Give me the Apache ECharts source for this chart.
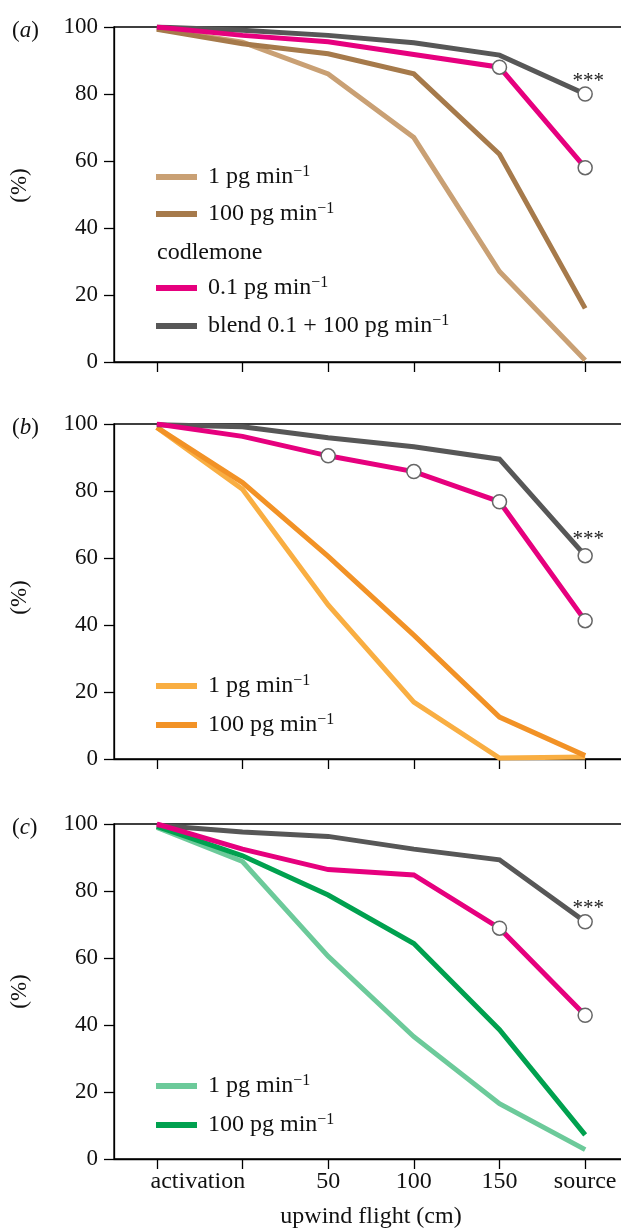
<!DOCTYPE html>
<html><head><meta charset="utf-8">
<script src="https://cdn.jsdelivr.net/npm/echarts@6/dist/echarts.min.js"></script>
<style>html,body{margin:0;padding:0;background:#fff}#c{width:621px;height:1230px}</style>
</head><body><div id="c"></div>
<script>
// ---- data ----
const categories = ['activation', '', '50', '100', '150', 'source'];
const yMin = 0, yMax = 100, yStep = 20;

// panel (a)
const a_1pg   = [99.5, 95.5, 86.0, 67.0, 27.0, 0.5];
const a_100pg = [99.3, 95.0, 92.0, 86.0, 62.0, 16.0];
const a_codl  = [100, 97.5, 95.6, 91.8, 88.0, 58.0];
const a_blend = [100, 99.0, 97.5, 95.3, 91.6, 80.0];
// panel (b)
const b_1pg   = [99.0, 80.5, 46.0, 17.0, 0.3, 0.6];
const b_100pg = [99.0, 82.5, 60.5, 37.0, 12.5, 1.0];
const b_codl  = [100, 96.3, 90.5, 85.8, 76.8, 41.3];
const b_blend = [99.8, 99.2, 95.9, 93.2, 89.5, 60.7];
// panel (c)
const c_1pg   = [99.0, 88.8, 60.5, 36.5, 16.5, 2.8];
const c_100pg = [99.3, 90.5, 78.8, 64.3, 38.6, 7.2];
const c_codl  = [100, 92.5, 86.4, 84.8, 68.9, 42.9];
const c_blend = [99.6, 97.6, 96.3, 92.5, 89.3, 70.8];

// indices marked with open circles
const a_codlMarks = [4, 5], a_blendMarks = [5];
const b_codlMarks = [2, 3, 4, 5], b_blendMarks = [5];
const c_codlMarks = [4, 5], c_blendMarks = [5];
const sigText = '***';

const panelLetters = ['a', 'b', 'c'];
const legendLabels = {
  a1: '1 pg min', a100: '100 pg min', aC: '0.1 pg min', aB: 'blend 0.1 + 100 pg min',
  b1: '1 pg min', b100: '100 pg min',
  c1: '1 pg min', c100: '100 pg min'
};

// ---- styling ----
const FONT = 'Liberation Serif';
const COL = {
  a1: '#C9A074', a100: '#A67A4B',
  b1: '#F9AE42', b100: '#F29226',
  c1: '#6CCA9A', c100: '#00A14F',
  aC: '#E6007E', aB: '#575757',
  pink: '#E6007E', gray: '#575757'
};
const tops = [27, 424, 824];
const H = 335, LEFT = 114, W = 514;
const sigOffsetY = [6, 2, 5];
const yNamePad = [[0, 0, 0, 18], [0, 12, 0, 0], [0, 0, 0, 0]];

const chart = echarts.init(document.getElementById('c'), null, {renderer: 'canvas'});

const grids = [], xAxes = [], yAxes = [], series = [], legends = [], graphics = [];

tops.forEach((t, i) => {
  grids.push({left: LEFT, top: t, width: W, height: H, show: true, outerBoundsMode: 'none',
    containLabel: false,
    borderColor: '#000', borderWidth: 1.3, backgroundColor: 'transparent'});
  const last = i === 2;
  xAxes.push({
    type: 'category', gridIndex: i, data: categories, boundaryGap: true,
    axisLine: {lineStyle: {color: '#000', width: 1.3}},
    axisTick: {show: true, alignWithLabel: true, interval: 0, length: 10, lineStyle: {color: '#000', width: 1.3}},
    axisLabel: {show: last, interval: 0, color: '#111', fontFamily: FONT, fontSize: 24, margin: 11,
      hideOverlap: false,
      formatter: (v, idx) => idx === 0 ? '{act|' + v + '}' : v,
      rich: {act: {fontFamily: FONT, fontSize: 24, color: '#111', padding: [0, 0, 0, 82]}}},
    name: last ? 'upwind flight (cm)' : '', nameLocation: 'middle', nameGap: 46,
    nameTextStyle: {fontFamily: FONT, fontSize: 24, color: '#111'}
  });
  yAxes.push({
    type: 'value', gridIndex: i, min: yMin, max: yMax, interval: yStep,
    axisLine: {show: true, lineStyle: {color: '#000', width: 1.3}},
    axisTick: {show: true, length: 10, lineStyle: {color: '#000', width: 1.3}},
    splitLine: {show: false},
    axisLabel: {color: '#111', fontFamily: FONT, fontSize: 23, margin: 16},
    name: '(%)', nameLocation: 'middle', nameRotate: 90, nameGap: 83,
    nameTextStyle: {fontFamily: FONT, fontSize: 23, color: '#111', padding: yNamePad[i]}
  });
  graphics.push({type: 'text', left: 12, top: t - 8,
    style: {text: '(' + '{i|' + panelLetters[i] + '})', fontFamily: FONT, fontSize: 23, fill: '#111',
      rich: {i: {fontFamily: FONT, fontStyle: 'italic', fontSize: 23, fill: '#111'}}}});
});

function mkData(vals, marks, sigPanel) {
  return vals.map((v, k) => {
    const on = marks && marks.indexOf(k) >= 0;
    const o = {value: v, symbol: on ? 'circle' : 'none'};
    if (sigPanel !== undefined && k === vals.length - 1) {
      o.label = {show: true, formatter: sigText, position: 'top', distance: 0,
        offset: [3, sigOffsetY[sigPanel]],
        fontFamily: FONT, fontSize: 21, color: '#222'};
    }
    return o;
  });
}
function addSeries(id, panel, vals, color, marks, sig) {
  series.push({
    name: id, type: 'line', xAxisIndex: panel, yAxisIndex: panel,
    data: mkData(vals, marks, sig ? panel : undefined), color: color,
    symbol: 'circle', symbolSize: 14, showSymbol: true,
    itemStyle: {color: '#fff', borderColor: '#666', borderWidth: 1.5},
    lineStyle: {color: color, width: 5, cap: 'butt', join: 'miter'},
    emphasis: {disabled: true}, silent: true, animation: false, z: 2
  });
}
addSeries('a1', 0, a_1pg, COL.a1);
addSeries('a100', 0, a_100pg, COL.a100);
addSeries('aB', 0, a_blend, COL.gray, a_blendMarks, true);
addSeries('aC', 0, a_codl, COL.pink, a_codlMarks);
addSeries('b1', 1, b_1pg, COL.b1);
addSeries('b100', 1, b_100pg, COL.b100);
addSeries('bB', 1, b_blend, COL.gray, b_blendMarks, true);
addSeries('bC', 1, b_codl, COL.pink, b_codlMarks);
addSeries('c1', 2, c_1pg, COL.c1);
addSeries('c100', 2, c_100pg, COL.c100);
addSeries('cB', 2, c_blend, COL.gray, c_blendMarks, true);
addSeries('cC', 2, c_codl, COL.pink, c_codlMarks);

function mkLegend(names, top, gap) {
  return {
    data: names.map(n => ({name: n, itemStyle: {color: COL[n], borderWidth: 0}})),
    orient: 'vertical', left: 156, top: top, padding: 0, itemGap: gap,
    icon: 'rect', itemWidth: 41, itemHeight: 6, selectedMode: false,
    itemStyle: {borderWidth: 0},
    formatter: n => '{t|' + legendLabels[n] + '}{s|\u22121}',
    textStyle: {fontFamily: FONT, fontSize: 24, color: '#111', lineHeight: 26,
      rich: {
        t: {fontFamily: FONT, fontSize: 24, color: '#111', lineHeight: 26, padding: [0, 0, 0, 6]},
        s: {fontFamily: FONT, fontSize: 16, color: '#111', lineHeight: 26, verticalAlign: 'top', padding: [0, 0, 7, 0]}
      }}
  };
}
legends.push(mkLegend(['a1', 'a100'], 164, 11));
legends.push(mkLegend(['aC', 'aB'], 275, 12));
legends.push(mkLegend(['b1', 'b100'], 673, 13));
legends.push(mkLegend(['c1', 'c100'], 1073, 13));
graphics.push({type: 'text', left: 157, top: 241,
  style: {text: 'codlemone', fontFamily: FONT, fontSize: 24, fill: '#111'}});

chart.setOption({
  backgroundColor: '#fff',
  animation: false,
  grid: grids, xAxis: xAxes, yAxis: yAxes, series: series,
  legend: legends, graphic: graphics
});
</script></body></html>
